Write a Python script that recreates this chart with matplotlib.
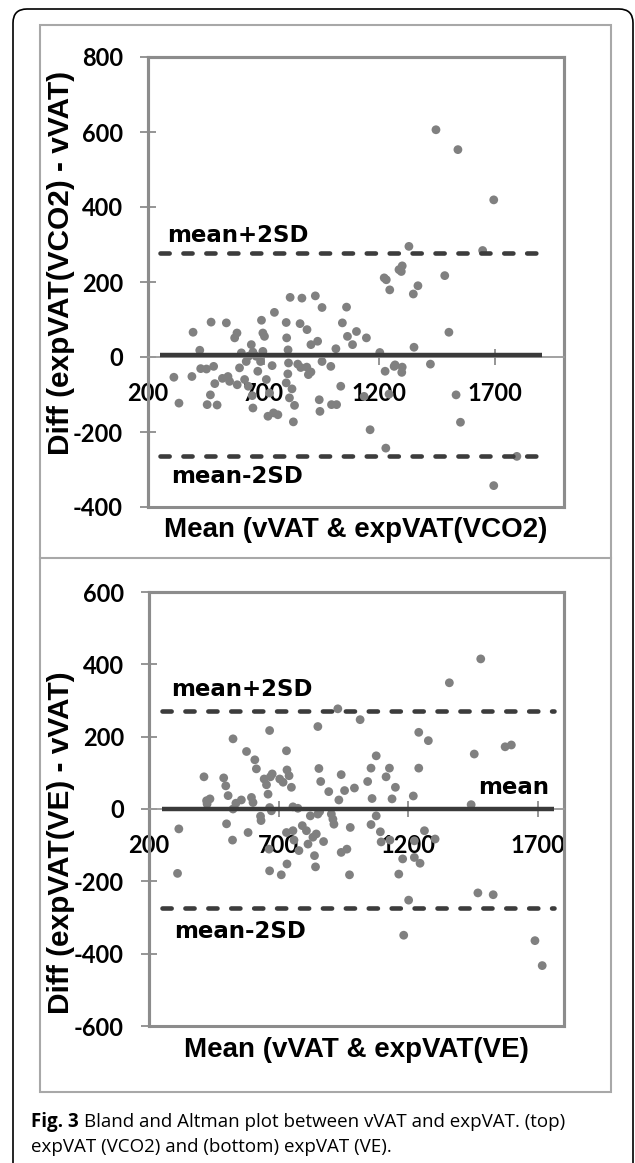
import matplotlib.pyplot as plt
from matplotlib.patches import FancyBboxPatch, Rectangle
from matplotlib.lines import Line2D
from matplotlib.transforms import IdentityTransform

plt.rcParams['axes.unicode_minus'] = False

# top panel: mean of vVAT & expVAT(VCO2) vs difference
top_mean = [312, 334, 395, 390, 424, 428, 453, 473, 484, 489, 470, 456, 499, 539, 575, 585,
            546, 522, 553, 586, 604, 618, 596, 625, 647, 654, 634, 651, 654, 675, 687, 697,
            691, 697, 704, 668, 635, 712, 726, 719, 743, 762, 747, 737, 798, 800, 806, 808,
            805, 798, 815, 823, 812, 834, 829, 858, 866, 848, 861, 888, 887, 905, 894, 905,
            924, 934, 953, 953, 941, 944, 991, 994, 1016, 1013, 1034, 1041, 1059, 1063, 1085,
            1102, 1135, 1145, 1161, 1203, 1226, 1229, 1222, 1231, 1246, 1269, 1243, 1286,
            1329, 1300, 1296, 1368, 1348, 1484, 1696, 1648, 1502, 1351, 1265, 1300, 1298,
            1422, 1533, 1552, 1796, 1696, 1446, 1541]
top_diff = [-54, -123, 66, -52, 18, -31, -32, 93, -25, -71, -101, -127, -128, 91, 51, 64,
            -52, -57, -65, -74, 11, -60, -29, -12, 33, 13, -78, -103, -136, -38, -12, 15,
            98, 64, 55, 2, 2, -60, -96, -158, -149, -154, 119, -23, 92, 51, 19, -16,
            -45, -69, 159, -85, -109, -129, -173, 89, 157, -19, -28, 73, -27, -40, -47, 33,
            163, 42, 132, -12, -114, -145, -25, -127, -127, 22, -78, 91, 133, 55, 33,
            68, -105, 51, -194, 12, -38, -243, 211, 206, 179, -21, -99, 233,
            295, 243, 228, 190, 168, 217, 419, 284, 66, 26, -25, -27, -41,
            -19, -101, -174, -265, -343, 606, 553]
top_bias, top_upper, top_lower = 6, 277, -265
top_line_x = [250, 1905]

# bottom panel: mean of vVAT & expVAT(VE) vs difference
bot_mean = [315, 310, 412, 422, 435, 424, 488, 496, 505, 524, 524, 499, 522, 535, 556, 576,
            595, 601, 582, 608, 614, 630, 632, 644, 653, 659, 665, 668, 675, 665, 672, 663,
            665, 710, 732, 704, 717, 730, 732, 740, 749, 755, 774, 730, 755, 759, 778, 791,
            807, 813, 822, 832, 838, 842, 845, 851, 858, 851, 855, 862, 873, 893, 903, 909,
            913, 928, 932, 941, 954, 941, 963, 976, 973, 992, 1014, 1043, 1056, 1060, 1056,
            1076, 1076, 1092, 1114, 1127, 1137, 1150, 1129, 1163, 1479, 1358, 1240, 1277,
            1454, 1573, 1597, 1240, 1219, 1442, 1262, 1095, 1223, 1303, 1178, 1223, 1245,
            1201, 1468, 1527, 1182, 1688, 1716]
bot_diff = [-55, -178, 89, 23, 28, 14, 86, 64, 37, 194, 0, -41, -86, 16, 25, 159,
            32, 18, -65, 136, 111, -20, -32, 83, 67, 41, 217, 89, 97, 4, -5, -111,
            -171, -182, -152, 83, 74, 161, 108, 92, 60, 6, 2, -65, -60, -86, -115, -46,
            -60, -97, -19, -78, -129, -160, -69, -14, -7, 228, 112, 76, -90, 48, -14, -28,
            -42, 277, 25, 95, 51, -120, -111, -51, -182, 58, 247, 76, 113, 29, -43,
            147, -19, -63, 89, 113, 28, 60, -86, -180, 415, 349, 212, 189,
            152, 172, 177, 113, 36, 12, -60, -91, -88, -83, -138, -134, -150,
            -252, -232, -237, -349, -364, -433]
bot_bias, bot_upper, bot_lower = 0, 272, -274
bot_line_x = [250, 1760]

x_ticks = [200, 700, 1200, 1700]
top_yticks = [-400, -200, 0, 200, 400, 600, 800]
bot_yticks = [-600, -400, -200, 0, 200, 400, 600]

W, H = 635, 1163
gray = '#8c8c8c'
tick_font = dict(fontfamily='Lato', fontweight='bold', fontsize=17)
note_font = dict(fontfamily='DejaVu Sans', fontweight='bold', fontsize=16.5)
label_font = dict(fontfamily='Liberation Sans', fontweight='bold')

fig = plt.figure(figsize=(W / 100, H / 100), dpi=100)


def px_axes(left, top, right, bottom):
    return fig.add_axes([left / W, 1 - bottom / H, (right - left) / W, (bottom - top) / H])


def panel(ax, xs, ys, xlim, ylim, yticks, bias, upper, lower, line_x):
    ax.set_xlim(xlim)
    ax.set_ylim(ylim)
    ax.scatter(xs, ys, s=40, color='#808080', edgecolor='none', zorder=2, clip_on=False)
    ax.plot(line_x, [bias, bias], color='#3a3a3a', lw=3.2, solid_capstyle='butt', zorder=3)
    for v in (upper, lower):
        ax.plot(line_x, [v, v], color='#3c3c3c', lw=3.3, dashes=(2.0, 3.0),
                dash_capstyle='round', zorder=3)
    for s in ('top', 'right', 'left'):
        ax.spines[s].set_color(gray)
        ax.spines[s].set_linewidth(2.2)
    ax.spines['bottom'].set_position(('data', 0))
    ax.spines['bottom'].set_color('#9a9a9a')
    ax.spines['bottom'].set_linewidth(1.3)
    ax.add_patch(Rectangle((0, 0), 1, 1, transform=ax.transAxes, fill=False, ec=gray,
                           lw=2.2, clip_on=False, zorder=1))
    ax.set_yticks(yticks, labels=[str(t) for t in yticks], **tick_font)
    ax.set_xticks(x_ticks, labels=[str(t) for t in x_ticks], **tick_font)
    ax.tick_params(axis='both', direction='inout', length=12, width=1.3, color=gray, pad=12)


ax1 = px_axes(148, 57, 564, 507)
panel(ax1, top_mean, top_diff, (200, 2000), (-400, 800), top_yticks,
      top_bias, top_upper, top_lower, top_line_x)
ax1.text(282, 307, 'mean+2SD', va='baseline', **note_font)
ax1.text(298, -335, 'mean-2SD', va='baseline', **note_font)

ax2 = px_axes(149, 592, 564, 1026)
panel(ax2, bot_mean, bot_diff, (200, 1800), (-600, 600), bot_yticks,
      bot_bias, bot_upper, bot_lower, bot_line_x)
ax2.text(284, 313, 'mean+2SD', va='baseline', **note_font)
ax2.text(296, -356, 'mean-2SD', va='baseline', **note_font)
ax2.text(1468, 42, 'mean', va='baseline', **note_font)

# axis titles
fig.text(356 / W, 1 - 530 / H, 'Mean (vVAT & expVAT(VCO2)', ha='center', va='center',
         fontsize=20, **label_font)
fig.text(356 / W, 1 - 1050 / H, 'Mean (vVAT & expVAT(VE)', ha='center', va='center',
         fontsize=20, **label_font)
fig.text(61 / W, 1 - 263 / H, 'Diff (expVAT(VCO2) - vVAT)', rotation=90, ha='center',
         va='center', fontsize=21.5, **label_font)
fig.text(61 / W, 1 - 843 / H, 'Diff (expVAT(VE) - vVAT)', rotation=90, ha='center',
         va='center', fontsize=21.5, **label_font)

# frames
fig.add_artist(FancyBboxPatch((13, -30), 620, H - 9 + 30, boxstyle='round,pad=0,rounding_size=14',
                              transform=IdentityTransform(), fill=False, ec='black', lw=1.2))
fig.add_artist(Rectangle((40, H - 1092), 571, 1092 - 25, transform=IdentityTransform(),
                         fill=False, ec='#a8a8a8', lw=1.5))
fig.add_artist(Line2D([40, 611], [H - 558, H - 558], transform=IdentityTransform(),
                      color='#a8a8a8', lw=1.5))

# caption
cap_font = dict(fontfamily='Open Sans', fontsize=13.5)
t = fig.text(31 / W, 1 - 1127 / H, 'Fig. 3', va='baseline', fontweight='bold', **cap_font)
fig.canvas.draw()
bb = t.get_window_extent(fig.canvas.get_renderer())
fig.text((bb.x1 + 5) / W, 1 - 1127 / H, 'Bland and Altman plot between vVAT and expVAT. (top)',
         va='baseline', **cap_font)
fig.text(31 / W, 1 - 1152 / H, 'expVAT (VCO2) and (bottom) expVAT (VE).', va='baseline', **cap_font)

fig.savefig('out.png', dpi=100)
